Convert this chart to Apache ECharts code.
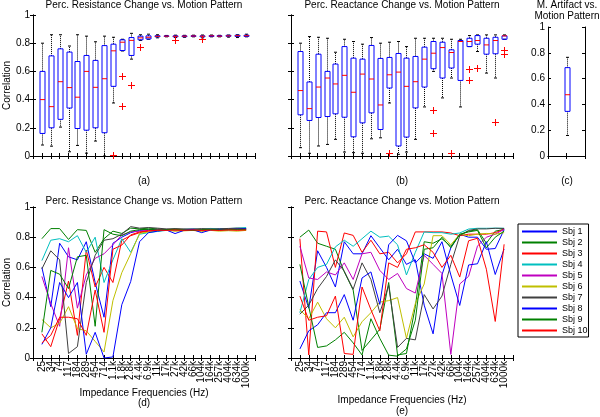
<!DOCTYPE html>
<html><head><meta charset="utf-8">
<script src="https://cdn.jsdelivr.net/npm/echarts@6/dist/echarts.min.js"></script>
<style>html,body{margin:0;padding:0;background:#fff}#c{width:600px;height:417px}</style>
</head><body><div id="c"></div>
<script>
// ---------- DATA ----------
const freqLabels = ['25','34','74','117','184','289','454','714','1.1k','1.8k','2.8k','4.4k','6.9k','11k','17k','27k','42k','66k','104k','164k','257k','404k','634k','1000k'];
const subjectNames = ['Sbj 1','Sbj 2','Sbj 3','Sbj 4','Sbj 5','Sbj 6','Sbj 7','Sbj 8','Sbj 9','Sbj 10'];

// (a) boxplot of resistance correlation
const resLow  = [0.078,0.07,0.205,0.03,0.075,0.02,0.106,0.0,0.376,0.745,0.687,0.82,0.828,0.838,0.845,0.84,0.842,0.845,0.838,0.845,0.845,0.843,0.84,0.845];
const resQ1   = [0.16,0.20,0.26,0.34,0.195,0.183,0.20,0.165,0.494,0.748,0.713,0.824,0.83,0.845,0.848,0.845,0.846,0.848,0.845,0.848,0.848,0.849,0.848,0.848];
const resMed  = [0.40,0.35,0.527,0.485,0.417,0.60,0.487,0.548,0.746,0.807,0.82,0.838,0.842,0.849,0.85,0.849,0.85,0.851,0.85,0.852,0.85,0.852,0.853,0.853];
const resQ3   = [0.60,0.71,0.76,0.737,0.67,0.713,0.678,0.783,0.793,0.824,0.84,0.85,0.852,0.853,0.852,0.852,0.852,0.853,0.852,0.854,0.853,0.856,0.857,0.857];
const resHigh = [0.80,0.86,0.86,0.78,0.86,0.85,0.81,0.85,0.842,0.828,0.87,0.86,0.864,0.86,0.855,0.857,0.856,0.857,0.858,0.858,0.856,0.858,0.86,0.864];
const resOutPos = [9,10,10,11,12,16,19];
const resOutVal = [0.007,0.565,0.353,0.506,0.77,0.824,0.83];

// (b) boxplot of reactance correlation
const reaLow  = [0.059,0.019,0.071,0.082,0.118,0.028,0.024,0.019,0.122,0.129,0.376,0.012,0.028,0.118,0.348,0.60,0.412,0.553,0.348,0.776,0.741,0.588,0.553,0.828];
const reaQ1   = [0.292,0.252,0.273,0.28,0.299,0.275,0.136,0.235,0.306,0.188,0.482,0.071,0.134,0.341,0.489,0.619,0.553,0.624,0.536,0.776,0.793,0.722,0.725,0.828];
const reaMed  = [0.464,0.336,0.489,0.553,0.511,0.572,0.452,0.581,0.546,0.362,0.576,0.595,0.494,0.527,0.687,0.729,0.769,0.734,0.812,0.812,0.819,0.788,0.819,0.852];
const reaQ3   = [0.741,0.525,0.722,0.60,0.652,0.776,0.694,0.687,0.784,0.692,0.699,0.727,0.694,0.706,0.772,0.812,0.807,0.753,0.819,0.835,0.854,0.835,0.842,0.852];
const reaHigh = [0.80,0.847,0.842,0.835,0.736,0.828,0.812,0.793,0.84,0.80,0.807,0.812,0.776,0.835,0.835,0.835,0.835,0.828,0.828,0.854,0.859,0.859,0.859,0.859];
const reaOutPos = [11,16,16,18,20,20,21,23,24,24];
const reaOutVal = [0.019,0.325,0.16,0.024,0.616,0.541,0.624,0.242,0.753,0.722];

// (c) motion artifact box: [low, q1, median, q3, high]
const artBox = [0.159,0.346,0.475,0.685,0.765];

// (d) resistance correlation per subject
const resS1  = [0.60,0.34,0.76,0.67,0.65,0.77,0.50,0.27,0.76,0.80,0.83,0.845,0.85,0.852,0.848,0.85,0.847,0.852,0.85,0.849,0.853,0.85,0.855,0.852];
const resS2  = [0.79,0.857,0.857,0.785,0.85,0.845,0.70,0.79,0.84,0.825,0.86,0.855,0.86,0.855,0.85,0.853,0.85,0.848,0.852,0.855,0.85,0.853,0.857,0.858];
const resS3  = [0.16,0.075,0.26,0.51,0.15,0.715,0.47,0.60,0.50,0.78,0.81,0.83,0.84,0.845,0.848,0.843,0.846,0.85,0.845,0.848,0.846,0.85,0.848,0.847];
const resS4  = [0.645,0.78,0.79,0.77,0.81,0.70,0.80,0.50,0.65,0.79,0.70,0.82,0.83,0.838,0.845,0.848,0.852,0.856,0.852,0.858,0.855,0.857,0.86,0.864];
const resS5  = [0.54,0.36,0.21,0.73,0.33,0.55,0.66,0.69,0.75,0.815,0.835,0.84,0.845,0.85,0.852,0.848,0.85,0.853,0.849,0.852,0.85,0.854,0.856,0.855];
const resS6  = [0.255,0.20,0.23,0.34,0.195,0.18,0.11,0.04,0.38,0.565,0.69,0.825,0.835,0.843,0.845,0.84,0.842,0.845,0.838,0.845,0.84,0.843,0.84,0.845];
const resS7  = [0.59,0.71,0.65,0.03,0.075,0.50,0.68,0.78,0.79,0.82,0.87,0.86,0.864,0.86,0.855,0.857,0.855,0.853,0.857,0.854,0.856,0.858,0.86,0.857];
const resS8  = [0.09,0.20,0.50,0.40,0.50,0.025,0.17,0.0,0.007,0.353,0.506,0.77,0.83,0.84,0.848,0.824,0.845,0.85,0.83,0.848,0.852,0.85,0.853,0.855];
const resS9  = [0.17,0.58,0.555,0.46,0.67,0.68,0.21,0.85,0.82,0.81,0.84,0.85,0.852,0.848,0.85,0.852,0.848,0.845,0.85,0.852,0.848,0.85,0.852,0.85];
const resS10 = [0.10,0.15,0.27,0.27,0.26,0.15,0.45,0.17,0.72,0.748,0.815,0.835,0.842,0.846,0.845,0.848,0.845,0.848,0.845,0.847,0.845,0.848,0.846,0.848];

// (e) reactance correlation per subject
const reaS1  = [0.51,0.33,0.71,0.60,0.47,0.77,0.69,0.69,0.81,0.73,0.65,0.72,0.62,0.65,0.35,0.16,0.55,0.73,0.82,0.80,0.80,0.72,0.725,0.85];
const reaS2  = [0.80,0.847,0.76,0.74,0.72,0.57,0.45,0.05,0.12,0.19,0.50,0.02,0.03,0.34,0.77,0.76,0.79,0.74,0.815,0.84,0.85,0.76,0.84,0.852];
const reaS3  = [0.79,0.02,0.84,0.835,0.60,0.828,0.812,0.70,0.78,0.69,0.70,0.63,0.69,0.835,0.835,0.835,0.835,0.828,0.81,0.82,0.82,0.82,0.83,0.853];
const reaS4  = [0.30,0.52,0.60,0.62,0.736,0.78,0.74,0.79,0.84,0.80,0.807,0.75,0.55,0.70,0.835,0.83,0.83,0.82,0.828,0.854,0.859,0.859,0.86,0.859];
const reaS5  = [0.74,0.53,0.52,0.57,0.55,0.63,0.52,0.69,0.70,0.58,0.52,0.56,0.46,0.43,0.68,0.62,0.56,0.024,0.49,0.541,0.741,0.80,0.82,0.852];
const reaS6  = [0.32,0.26,0.37,0.26,0.20,0.27,0.14,0.24,0.30,0.37,0.38,0.40,0.13,0.36,0.49,0.81,0.81,0.75,0.82,0.81,0.82,0.825,0.82,0.83];
const reaS7  = [0.29,0.35,0.46,0.54,0.65,0.575,0.455,0.63,0.52,0.30,0.48,0.07,0.13,0.12,0.42,0.325,0.41,0.62,0.81,0.845,0.855,0.855,0.859,0.858];
const reaS8  = [0.06,0.18,0.22,0.30,0.30,0.42,0.25,0.53,0.57,0.355,0.75,0.812,0.776,0.63,0.69,0.66,0.77,0.55,0.348,0.616,0.624,0.77,0.553,0.722];
const reaS9  = [0.62,0.34,0.07,0.08,0.12,0.17,0.10,0.02,0.26,0.13,0.019,0.012,0.06,0.25,0.72,0.73,0.80,0.73,0.82,0.835,0.845,0.73,0.80,0.84];
const reaS10 = [0.41,0.25,0.27,0.28,0.41,0.03,0.024,0.47,0.32,0.18,0.63,0.60,0.72,0.73,0.75,0.70,0.60,0.68,0.536,0.776,0.793,0.588,0.242,0.753];

// ---------- STYLE / LAYOUT ----------
const FONT = 'Liberation Sans, Arial, Helvetica, sans-serif';
const subjectColors = ['#0000ff','#008000','#ff0000','#00bfbf','#bf00bf','#bfbf00','#404040','#0000ff','#008000','#ff0000'];
const resSubjects = [resS1,resS2,resS3,resS4,resS5,resS6,resS7,resS8,resS9,resS10];
const reaSubjects = [reaS1,reaS2,reaS3,reaS4,reaS5,reaS6,reaS7,reaS8,reaS9,reaS10];

const grids = [
  {left:33, top:15, width:222, height:141},   // a
  {left:291, top:15, width:222, height:141},  // b
  {left:548, top:27, width:37, height:129},   // c
  {left:33, top:207, width:222, height:151},  // d
  {left:291, top:207, width:222, height:151}  // e
];

const lineSt = {show:true, lineStyle:{color:'#000', width:1}};
const tickSt = {show:true, inside:true, length:3, lineStyle:{color:'#000', width:1}};
const xAxes = [], yAxes = [];
grids.forEach((g, gi) => {
  const isC = gi === 2;
  const hasFreq = gi === 3 || gi === 4;
  const xBase = {type:'value', gridIndex:gi, min: isC ? 0.5 : 0, max: isC ? 1.5 : 25, interval: isC ? 0.5 : 1,
    splitLine:{show:false}, axisLine:lineSt, axisTick:tickSt};
  xAxes.push(Object.assign({}, xBase, {position:'bottom',
    axisLabel: hasFreq ? {show:true, rotate:90, margin:3, fontSize:10, fontFamily:FONT, color:'#000',
      formatter: v => (v >= 1 && v <= 24) ? freqLabels[Math.round(v) - 1] : ''} : {show:false}}));
  xAxes.push(Object.assign({}, xBase, {position:'top', axisLabel:{show:false}}));
  const showY = gi !== 1 && gi !== 4;
  const yBase = {type:'value', gridIndex:gi, min:0, max:1, interval:0.2,
    splitLine:{show:false}, axisLine:lineSt, axisTick:tickSt};
  yAxes.push(Object.assign({}, yBase, {position:'left',
    name: (gi === 0 || gi === 3) ? 'Correlation' : '', nameLocation:'middle', nameGap:20,
    nameTextStyle:{fontSize:10, fontFamily:FONT, color:'#000'},
    axisLabel: showY ? {show:true, margin:3, fontSize:10, fontFamily:FONT, color:'#000'} : {show:false}}));
  yAxes.push(Object.assign({}, yBase, {position:'right', axisLabel:{show:false}}));
});

function boxRender(params, api) {
  const x = api.value(0);
  const pLo = api.coord([x, api.value(1)]);
  const pQ1 = api.coord([x, api.value(2)]);
  const pMd = api.coord([x, api.value(3)]);
  const pQ3 = api.coord([x, api.value(4)]);
  const pHi = api.coord([x, api.value(5)]);
  const cx = Math.round(pLo[0]) + 0.5;
  const hw = 2.5, cap = 1.5;
  const dash = {stroke:'#000', lineWidth:1, lineDash:[1,1], fill:null};
  const solid = {stroke:'#000', lineWidth:1, fill:null};
  return {type:'group', children:[
    {type:'line', shape:{x1:cx, y1:pQ3[1], x2:cx, y2:pHi[1]}, style:dash},
    {type:'line', shape:{x1:cx, y1:pQ1[1], x2:cx, y2:pLo[1]}, style:dash},
    {type:'line', shape:{x1:cx-cap, y1:pHi[1], x2:cx+cap, y2:pHi[1]}, style:solid},
    {type:'line', shape:{x1:cx-cap, y1:pLo[1], x2:cx+cap, y2:pLo[1]}, style:solid},
    {type:'rect', shape:{x:cx-hw, y:pQ3[1], width:2*hw, height:pQ1[1]-pQ3[1]}, style:{fill:null, stroke:'#0000ff', lineWidth:1}},
    {type:'line', shape:{x1:cx-hw, y1:pMd[1], x2:cx+hw, y2:pMd[1]}, style:{stroke:'#ff0000', lineWidth:1, fill:null}}
  ]};
}
function plusRender(params, api) {
  const p = api.coord([api.value(0), api.value(1)]);
  const s = 3.5;
  const cx = Math.round(p[0]) + 0.5, cy = Math.round(p[1]) + 0.5;
  const st = {stroke:'#ff0000', lineWidth:1, fill:null};
  return {type:'group', children:[
    {type:'line', shape:{x1:cx-s, y1:cy, x2:cx+s, y2:cy}, style:st},
    {type:'line', shape:{x1:cx, y1:cy-s, x2:cx, y2:cy+s}, style:st}
  ]};
}
function boxData(lo, q1, md, q3, hi) {
  return lo.map((v, i) => [i + 1, lo[i], q1[i], md[i], q3[i], hi[i]]);
}

const series = [];
function addBox(gi, data) {
  series.push({type:'custom', xAxisIndex:2*gi, yAxisIndex:2*gi, renderItem:boxRender,
    encode:{x:0, y:[1,2,3,4,5]}, data, silent:true, z:3});
}
function addOut(gi, pos, val) {
  series.push({type:'custom', xAxisIndex:2*gi, yAxisIndex:2*gi, renderItem:plusRender,
    encode:{x:0, y:1}, data: pos.map((p, i) => [p, val[i]]), silent:true, z:4});
}
addBox(0, boxData(resLow, resQ1, resMed, resQ3, resHigh));
addOut(0, resOutPos, resOutVal);
addBox(1, boxData(reaLow, reaQ1, reaMed, reaQ3, reaHigh));
addOut(1, reaOutPos, reaOutVal);
addBox(2, [[1].concat(artBox)]);

function addLines(gi, subjects) {
  subjects.forEach((vals, si) => {
    series.push({type:'line', name:subjectNames[si], xAxisIndex:2*gi, yAxisIndex:2*gi,
      color: subjectColors[si],
      data: vals.map((v, i) => [i + 1, v]), showSymbol:false, symbol:'none',
      lineStyle:{width:1, color:subjectColors[si]}, itemStyle:{color:subjectColors[si], borderWidth:0}, silent:true});
  });
}
addLines(3, resSubjects);
addLines(4, reaSubjects);

function txt(text, x, y, extra) {
  return Object.assign({type:'text', x, y, silent:true,
    style:{text, fontSize:10, fontFamily:FONT, fill:'#000', align:'center', verticalAlign:'middle'}}, extra || {});
}
const graphics = [
  txt('Perc. Resistance Change vs. Motion Pattern', 144, 5),
  txt('Perc. Reactance Change vs. Motion Pattern', 402, 5),
  txt('M. Artifact vs.', 567, 5.5),
  txt('Motion Pattern', 567, 16),
  txt('(a)', 144, 181),
  txt('(b)', 402, 181),
  txt('(c)', 567, 181),
  txt('Perc. Resistance Change vs. Motion Pattern', 144, 201.5),
  txt('Perc. Reactance Change vs. Motion Pattern', 402, 201.5),
  txt('Impedance Frequencies (Hz)', 144, 393),
  txt('(d)', 144, 403),
  txt('Impedance Frequencies (Hz)', 402, 400),
  txt('(e)', 402, 411.5)
];

const chart = echarts.init(document.getElementById('c'), null, {renderer:'canvas'});
chart.setOption({
  animation:false,
  backgroundColor:'#fff',
  grid: grids.map(g => Object.assign({containLabel:false, show:false}, g)),
  xAxis: xAxes,
  yAxis: yAxes,
  legend: {orient:'vertical', left:518, top:224, icon:'rect', itemWidth:35, itemHeight:2, itemGap:0,
    padding:[2,1,1,4], borderColor:'#000', borderWidth:1, backgroundColor:'#fff',
    itemStyle:{borderWidth:0},
    textStyle:{fontSize:9, fontFamily:FONT, color:'#000', lineHeight:11}, data:subjectNames, selectedMode:false},
  graphic: graphics,
  series
});
</script></body></html>
